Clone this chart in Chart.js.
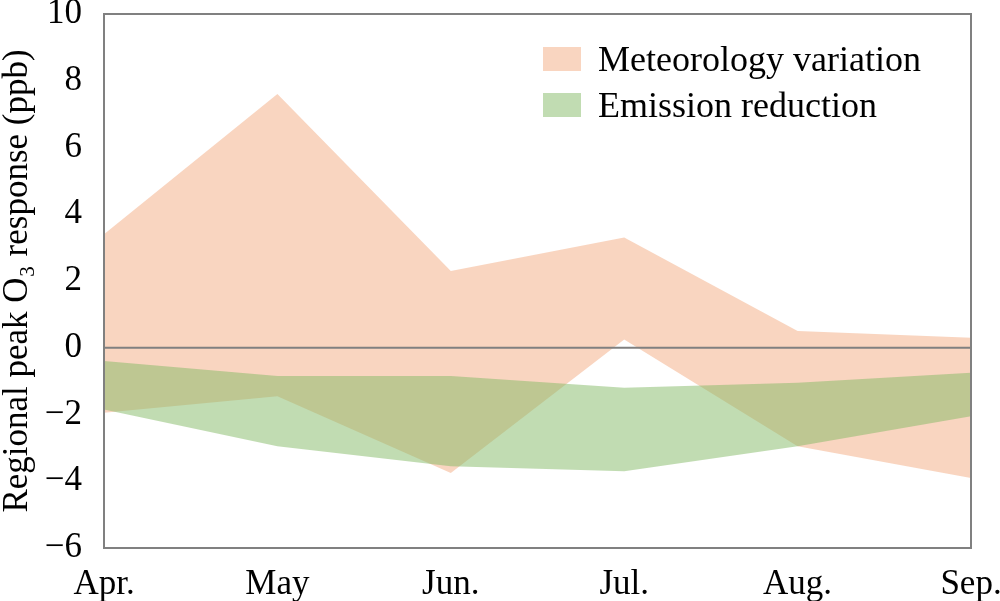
<!DOCTYPE html>
<html>
<head>
<meta charset="utf-8">
<script src="https://cdn.jsdelivr.net/npm/chart.js@4.4.1/dist/chart.umd.min.js"></script>
<style>
  html, body { margin: 0; padding: 0; background: #fff; }
  #wrap { position: relative; width: 1000px; height: 601px; }
  .legend { position: absolute; left: 543px; font-family: "Liberation Serif", serif; font-size: 36px; color: #000; }
  .legend div { display: flex; align-items: center; height: 46px; }
  .legend span.box { display: inline-block; width: 38px; height: 24px; margin-right: 17px; }
</style>
</head>
<body>
<div id="wrap">
  <canvas id="chart" width="1000" height="601"></canvas>
  <div class="legend" style="top:36px">
    <div><span class="box" style="background:rgba(244,171,129,0.5)"></span>Meteorology variation</div>
    <div><span class="box" style="background:rgba(131,185,101,0.5)"></span>Emission reduction</div>
  </div>
</div>
<script>
const months = ["Apr.", "May", "Jun.", "Jul.", "Aug.", "Sep."];
const meteoUpper = [3.4, 7.6, 2.3, 3.3, 0.5, 0.3];
const meteoLower = [-1.95, -1.45, -3.75, 0.25, -2.95, -3.9];
const emisUpper = [-0.4, -0.85, -0.85, -1.2, -1.05, -0.75];
const emisLower = [-1.85, -2.95, -3.55, -3.7, -2.95, -2.05];

const orange = "rgba(244,171,129,0.5)";
const green = "rgba(131,185,101,0.5)";
const serif = "'Liberation Serif', 'Times New Roman', serif";

const frame = {
  id: "frame",
  afterDatasetsDraw(chart) {
    const { ctx, chartArea: a, scales } = chart;
    const y0 = scales.y.getPixelForValue(0);
    ctx.save();
    ctx.strokeStyle = "#808080";
    ctx.lineWidth = 2;
    ctx.beginPath();
    ctx.moveTo(a.left, y0);
    ctx.lineTo(a.right, y0);
    ctx.stroke();
    ctx.strokeRect(a.left, a.top, a.right - a.left, a.bottom - a.top);
    ctx.restore();
  }
};

new Chart(document.getElementById("chart"), {
  type: "line",
  data: {
    labels: months,
    datasets: [
      { data: emisUpper, fill: "+1", backgroundColor: green, borderWidth: 0, pointRadius: 0 },
      { data: emisLower, fill: false, borderWidth: 0, pointRadius: 0 },
      { data: meteoUpper, fill: "+1", backgroundColor: orange, borderWidth: 0, pointRadius: 0 },
      { data: meteoLower, fill: false, borderWidth: 0, pointRadius: 0 }
    ]
  },
  options: {
    responsive: false,
    animation: false,
    layout: { padding: 0 },
    plugins: { legend: { display: false }, tooltip: { enabled: false } },
    scales: {
      x: {
        offset: false,
        grid: { display: false },
        border: { display: false },
        ticks: { color: "#000", font: { family: serif, size: 35, lineHeight: 1 }, padding: 11, maxRotation: 0 },
        afterFit(s) {
          s.height = 53;
          s.paddingLeft = 0;
          s.paddingRight = 29;
        }
      },
      y: {
        min: -6,
        max: 10,
        grid: { display: false },
        border: { display: false },
        ticks: {
          stepSize: 2,
          color: "#000",
          font: { family: serif, size: 35, lineHeight: 1 },
          padding: 14,
          callback: (v) => String(v).replace("-", "\u2212")
        },
        title: {
          display: true,
          text: "Regional peak O\u2083 response (ppb)",
          color: "#000",
          font: { family: serif, size: 35, lineHeight: 1 },
          padding: 0
        },
        afterFit(s) {
          s.width = 104;
          s.paddingTop = 14;
          s.paddingBottom = 0;
        }
      }
    }
  },
  plugins: [frame]
});
</script>
</body>
</html>
